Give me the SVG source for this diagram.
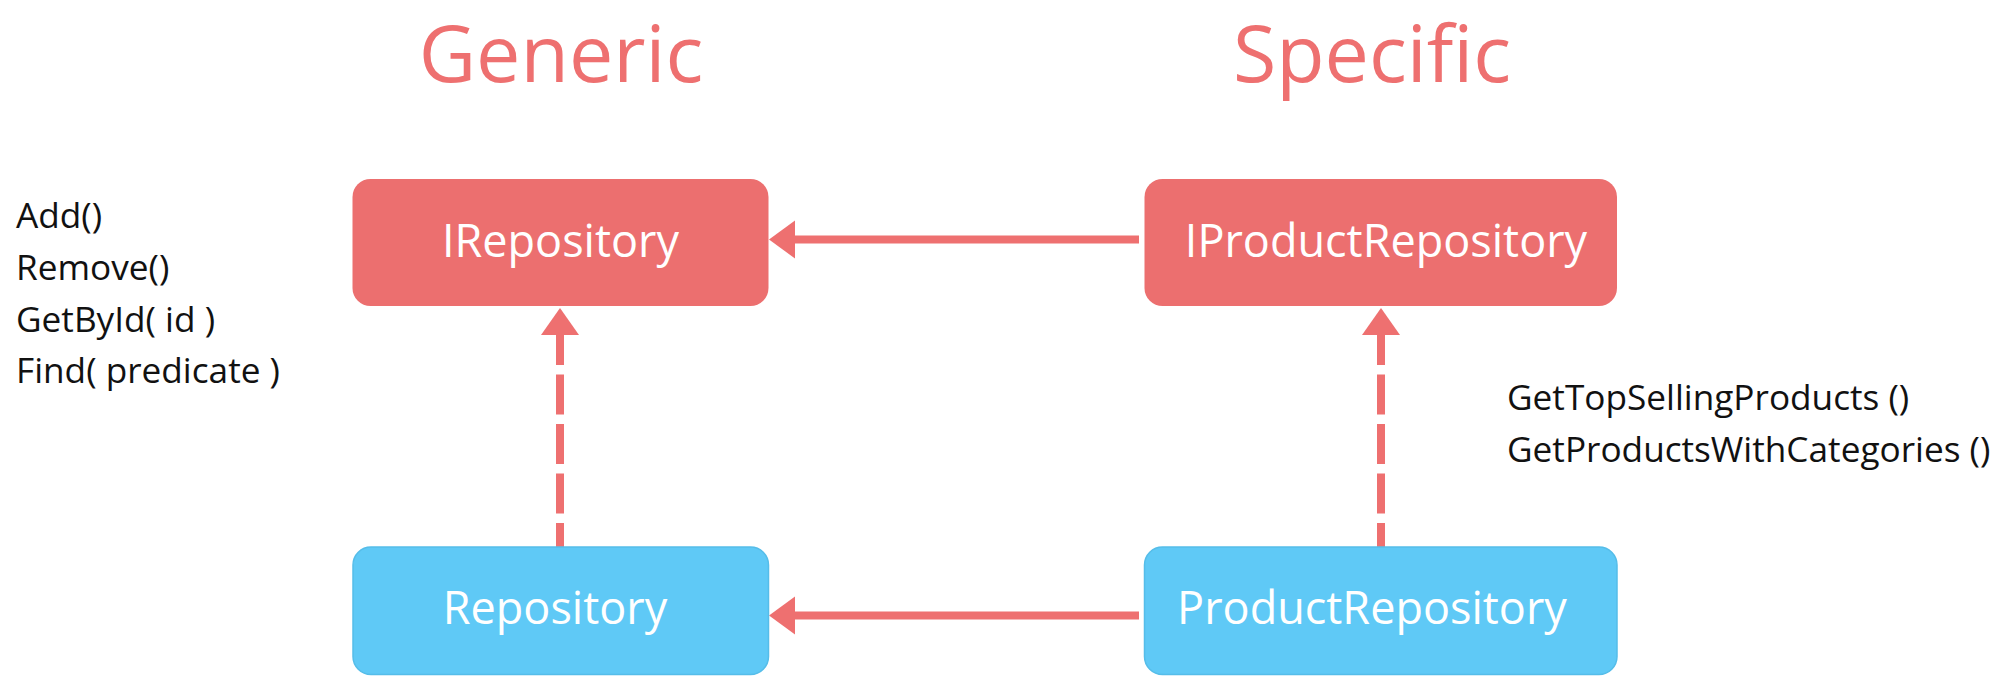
<svg xmlns="http://www.w3.org/2000/svg" width="2000" height="689" viewBox="0 0 2000 689">
  <style>
    .title { font-family: "Open Sans", "Noto Sans", sans-serif; font-size: 79px; fill: #EE7070; text-anchor: middle; }
    .label { font-family: "Open Sans", "Noto Sans", sans-serif; font-size: 45px; fill: #FFFFFF; text-anchor: middle; }
    .note { font-family: "Open Sans", "Noto Sans", sans-serif; font-size: 35.2px; fill: #111111; }
    .iface { fill: #EC6F6F; }
    .impl { fill: #5FC9F6; stroke: #55BDE9; stroke-width: 1.5; }
    .solid { stroke: #EE7070; stroke-width: 8; fill: none; }
    .dashed { stroke: #EE7070; stroke-width: 8; fill: none; stroke-dasharray: 40 9.5; stroke-dashoffset: 10; }
    .head { fill: #EE7070; }
  </style>

  <text class="title" x="561" y="82">Generic</text>
  <text class="title" x="1372" y="82">Specific</text>

  <g id="connectors">
    <line class="solid" x1="1139" y1="239.5" x2="792" y2="239.5"/>
    <path class="head" d="M769,239.5 L795,220.5 L795,258.5 Z"/>
    <line class="solid" x1="1139" y1="615.5" x2="792" y2="615.5"/>
    <path class="head" d="M769,615.5 L795,596.5 L795,634.5 Z"/>
    <line class="dashed" x1="560" y1="335" x2="560" y2="547"/>
    <path class="head" d="M560,308 L541,335 L579,335 Z"/>
    <line class="dashed" x1="1381" y1="335" x2="1381" y2="547"/>
    <path class="head" d="M1381,308 L1362,335 L1400,335 Z"/>
  </g>

  <g id="IRepository">
    <rect class="iface" x="352.5" y="179" width="416" height="127" rx="18"/>
    <text class="label" x="560.5" y="257">IRepository</text>
  </g>
  <g id="IProductRepository">
    <rect class="iface" x="1144.5" y="179" width="472.5" height="127" rx="18"/>
    <text class="label" x="1386" y="257">IProductRepository</text>
  </g>
  <g id="Repository">
    <rect class="impl" x="353" y="547" width="415.5" height="127.5" rx="18"/>
    <text class="label" x="555" y="624">Repository</text>
  </g>
  <g id="ProductRepository">
    <rect class="impl" x="1144.5" y="547" width="472.5" height="127.5" rx="18"/>
    <text class="label" x="1372" y="624">ProductRepository</text>
  </g>

  <g id="generic-methods">
    <text class="note" x="16" y="228">Add()</text>
    <text class="note" x="16" y="280">Remove()</text>
    <text class="note" x="16" y="332">GetById( id )</text>
    <text class="note" x="16" y="383">Find( predicate )</text>
  </g>
  <g id="specific-methods">
    <text class="note" x="1507" y="410">GetTopSellingProducts ()</text>
    <text class="note" x="1507" y="462">GetProductsWithCategories ()</text>
  </g>
</svg>
